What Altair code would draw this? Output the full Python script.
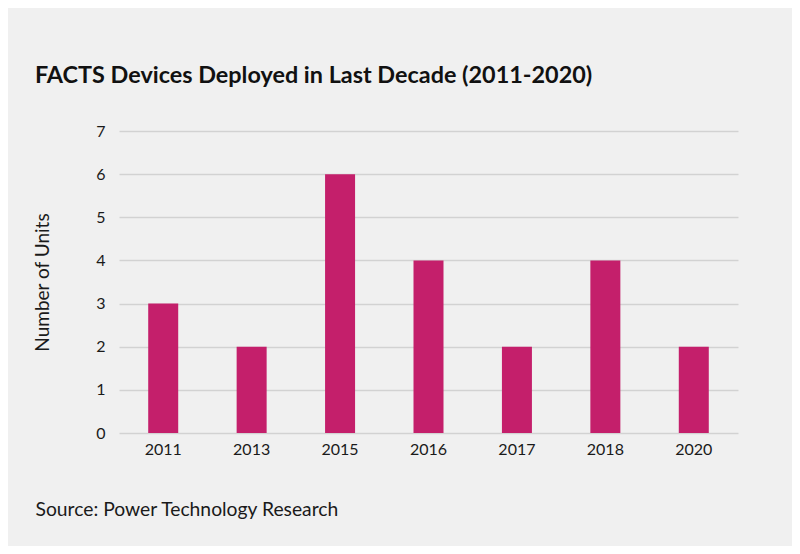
import altair as alt
import pandas as pd

years = ["2011", "2013", "2015", "2016", "2017", "2018", "2020"]
units = [3, 2, 6, 4, 2, 4, 2]

df = pd.DataFrame({"Year": years, "Units": units})

FONT = "Lato"

chart = alt.Chart(df).mark_bar(width=30, color="#c41f6b").encode(
    x=alt.X(
        "Year:N",
        sort=years,
        scale=alt.Scale(paddingInner=0.0, paddingOuter=0.0),
        axis=alt.Axis(
            title="Source: Power Technology Research",
            titleAnchor="start",
            titleAlign="left",
            titleBaseline="alphabetic",
            titleX=-84,
            titleY=82,
            titleFont=FONT,
            titleFontSize=19.3,
            titleFontWeight="normal",
            titleColor="#1a1a1a",
            labelAngle=0,
            labelFont=FONT,
            labelFontSize=16,
            labelColor="#1a1a1a",
            labelPadding=8,
            ticks=False,
            domain=False,
            grid=False,
        ),
    ),
    y=alt.Y(
        "Units:Q",
        scale=alt.Scale(domain=[0, 7], nice=False),
        axis=alt.Axis(
            title="Number of Units",
            values=[0, 1, 2, 3, 4, 5, 6, 7],
            titleAngle=270,
            titleAlign="center",
            titleBaseline="middle",
            titleX=-77,
            titleY=151,
            titleFont=FONT,
            titleFontSize=19,
            titleFontWeight="normal",
            titleColor="#1a1a1a",
            labelFont=FONT,
            labelFontSize=16,
            labelColor="#1a1a1a",
            labelPadding=14,
            ticks=False,
            domain=False,
            grid=True,
            gridColor="#d2d2d2",
            gridWidth=1.5,
        ),
    ),
).properties(
    width=619,
    height=302,
    autosize=alt.AutoSizeParams(type="none"),
    padding={"left": 111, "top": 123, "right": 54, "bottom": 113},
    background="#f0f0f0",
    title=alt.TitleParams(
        "FACTS Devices Deployed in Last Decade (2011-2020)",
        anchor="start",
        frame="group",
        font=FONT,
        fontSize=23.4,
        fontWeight="bold",
        color="#111111",
        dx=-84,
        baseline="alphabetic",
        offset=17,
    ),
).configure_view(stroke=None)

chart.save("out.html", embed_options={"renderer": "svg", "actions": False})
